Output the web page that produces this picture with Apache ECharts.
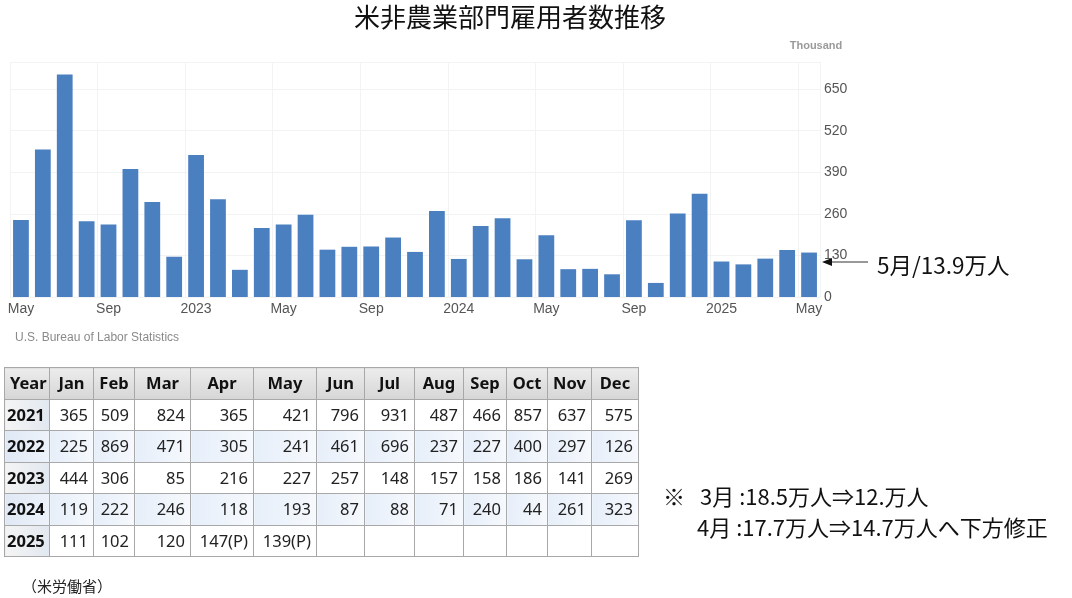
<!DOCTYPE html>
<html>
<head>
<meta charset="utf-8">
<script src="https://cdn.jsdelivr.net/npm/echarts@6/dist/echarts.min.js"></script>
<style>
  html, body { margin: 0; padding: 0; background: #fff; }
  #wrap { position: relative; width: 1072px; height: 598px; }
  #main { position: absolute; left: 0; top: 0; width: 1072px; height: 598px; }
  #tbl {
    position: absolute; left: 4px; top: 367px; width: 634px; height: 190px;
    border-collapse: collapse; table-layout: fixed;
    font-family: "Noto Sans", sans-serif; font-size: 16.5px; color: #222;
    border: 1.5px solid #333;
  }
  #tbl td, #tbl th { border: 1px solid #a8a8a8; padding: 0 5px; height: 30px; line-height: 30px; }
  #tbl th { background: linear-gradient(#ececec, #d6d6d6); font-weight: bold; text-align: center; color: #111; }
  #tbl td { text-align: right; }
  #tbl td.yr { font-weight: bold; text-align: left; padding-left: 2px; color: #111; background: linear-gradient(90deg, #f4f4f4, #e2e8f0); }
  #tbl tr.alt td { background: linear-gradient(90deg, #e6eef9, #f6f9fd); }
  #tbl tr.alt td.yr { background: linear-gradient(90deg, #dfe8f5, #eef3fa); }
</style>
</head>
<body>
<div id="wrap">
  <div id="main"></div>
  <table id="tbl"></table>
</div>
<script>
// monthly change in nonfarm payrolls, thousands (table values)
const monthNames = ['Jan', 'Feb', 'Mar', 'Apr', 'May', 'Jun', 'Jul', 'Aug', 'Sep', 'Oct', 'Nov', 'Dec'];
const years = [2021, 2022, 2023, 2024, 2025];
const v2021 = [365, 509, 824, 365, 421, 796, 931, 487, 466, 857, 637, 575];
const v2022 = [225, 869, 471, 305, 241, 461, 696, 237, 227, 400, 297, 126];
const v2023 = [444, 306, 85, 216, 227, 257, 148, 157, 158, 186, 141, 269];
const v2024 = [119, 222, 246, 118, 193, 87, 88, 71, 240, 44, 261, 323];
const v2025 = [111, 102, 120, 147, 139];
const prelim2025 = [false, false, false, true, true];
const yTicks = [0, 130, 260, 390, 520, 650];

const yearVals = [v2021, v2022, v2023, v2024, v2025];

// chart covers May 2022 .. May 2025
const categories = [];
const barValues = [];
yearVals.forEach((vals, yi) => {
  const y = years[yi];
  if (y < 2022) return;
  vals.forEach((v, mi) => {
    if (y === 2022 && mi < 4) return;
    categories.push(y + '-' + monthNames[mi]);
    barValues.push(v);
  });
});

// table
let html = '<colgroup>';
[45, 44, 41, 56, 63, 63, 48, 50, 49, 43, 41, 44, 47].forEach(w => { html += '<col style="width:' + w + 'px">'; });
html += '</colgroup><tr><th>Year</th>' + monthNames.map(m => '<th>' + m + '</th>').join('') + '</tr>';
yearVals.forEach((vals, yi) => {
  html += '<tr' + (yi % 2 === 1 ? ' class="alt"' : '') + '><td class="yr">' + years[yi] + '</td>';
  for (let m = 0; m < 12; m++) {
    let t = '';
    if (m < vals.length) {
      t = vals[m] + (years[yi] === 2025 && prelim2025[m] ? '(P)' : '');
    }
    html += '<td>' + t + '</td>';
  }
  html += '</tr>';
});
document.getElementById('tbl').innerHTML = html;

const chart = echarts.init(document.getElementById('main'));
const jp = '"Noto Sans CJK JP", sans-serif';
const en = '"Liberation Sans", Arial, sans-serif';

chart.setOption({
  animation: false,
  grid: { left: 10, right: 252, top: 62, bottom: 301 },
  xAxis: {
    type: 'category',
    data: categories,
    boundaryGap: true,
    axisLine: { show: false },
    axisTick: { show: false },
    axisLabel: {
      interval: 3,
      margin: 5,
      color: '#555',
      fontSize: 14,
      fontFamily: en,
      formatter: function (c) {
        const parts = c.split('-');
        return parts[1] === 'Jan' ? parts[0] : parts[1];
      }
    },
    splitLine: { show: true, interval: 3, lineStyle: { color: '#f1f3f5' } }
  },
  yAxis: {
    type: 'value',
    position: 'right',
    min: yTicks[0],
    max: 735,
    interval: yTicks[1] - yTicks[0],
    axisLine: { show: false },
    axisTick: { show: false },
    axisLabel: { showMaxLabel: false, margin: 4, color: '#555', fontSize: 14, fontFamily: en },
    splitLine: { lineStyle: { color: '#f1f3f5' } }
  },
  series: [{
    type: 'bar',
    data: barValues,
    barCategoryGap: '28%',
    itemStyle: { color: '#4a7fc0' }
  }],
  graphic: [
    { type: 'text', style: { text: '米非農業部門雇用者数推移', x: 510, y: 17, align: 'center', verticalAlign: 'middle', font: '26px ' + jp, fill: '#111' } },
    { type: 'text', style: { text: 'Thousand', x: 816, y: 46, align: 'center', verticalAlign: 'middle', font: 'bold 11px ' + en, fill: '#9a9a9a' } },
    { type: 'text', style: { text: 'U.S. Bureau of Labor Statistics', x: 15, y: 338, verticalAlign: 'middle', font: '12px ' + en, fill: '#8a8a8a' } },
    { type: 'line', shape: { x1: 830, y1: 262, x2: 868, y2: 262 }, style: { stroke: '#333', lineWidth: 1 } },
    { type: 'polygon', shape: { points: [[822, 262], [832, 258], [832, 266]] }, style: { fill: '#111' } },
    { type: 'text', style: { text: '5月/13.9万人', x: 877, y: 265, verticalAlign: 'middle', font: '22.5px ' + jp, fill: '#111' } },
    { type: 'text', style: { text: '※', x: 663, y: 497, verticalAlign: 'middle', font: '22px ' + jp, fill: '#111' } },
    { type: 'text', style: { text: '3月 :18.5万人⇒12.万人', x: 700, y: 497, verticalAlign: 'middle', font: '22px ' + jp, fill: '#111' } },
    { type: 'text', style: { text: '4月 :17.7万人⇒14.7万人へ下方修正', x: 697, y: 528, verticalAlign: 'middle', font: '22px ' + jp, fill: '#111' } },
    { type: 'text', style: { text: '（米労働省）', x: 22, y: 586, verticalAlign: 'middle', font: '15px ' + jp, fill: '#222' } }
  ]
});
</script>
</body>
</html>
